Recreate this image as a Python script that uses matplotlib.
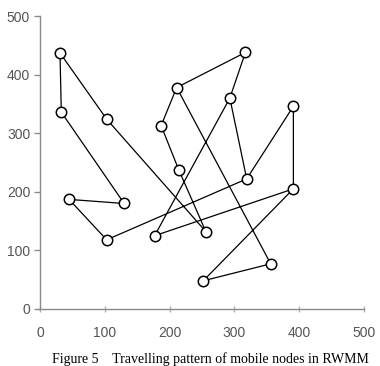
import matplotlib.pyplot as plt

# waypoints (two legs of the walk)
leg1_x = [293, 317, 211, 187, 214, 256, 103, 31, 33, 130, 45, 103, 319]
leg1_y = [360, 438, 378, 313, 238, 132, 324, 437, 336, 180, 187, 118, 222]
leg2_x = [211, 356, 252, 391, 391, 319, 293, 177, 391]
leg2_y = [378, 77, 48, 205, 346, 222, 360, 125, 205]

ticks = [0, 100, 200, 300, 400, 500]
caption = "Figure 5    Travelling pattern of mobile nodes in RWMM"

fig = plt.figure(figsize=(3.8, 3.66), dpi=100)
ax = fig.add_axes([0.105, 0.156, 0.853, 0.800])

for xs, ys in [(leg1_x, leg1_y), (leg2_x, leg2_y)]:
    ax.plot(xs, ys, color="black", lw=0.9, zorder=2)

# each waypoint drawn once
pts = sorted(set(zip(leg1_x + leg2_x, leg1_y + leg2_y)))
ax.plot([p[0] for p in pts], [p[1] for p in pts], ls="none", marker="o",
        ms=7.5, mfc="white", mec="black", mew=1.1, zorder=3)

ax.set_xlim(0, 500)
ax.set_ylim(0, 500)
ax.set_xticks(ticks)
ax.set_yticks(ticks)

for s in ["top", "right"]:
    ax.spines[s].set_visible(False)
for s in ["left", "bottom"]:
    ax.spines[s].set_color("#8a8a8a")
    ax.spines[s].set_linewidth(1.0)

ax.tick_params(axis="y", direction="out", length=4, width=1, color="#8a8a8a",
               pad=3, labelsize=10, labelcolor="#555555")
ax.tick_params(axis="x", direction="inout", length=5, width=1, color="#b0b0b0",
               pad=10, labelsize=10, labelcolor="#555555")
for lab in ax.get_xticklabels() + ax.get_yticklabels():
    lab.set_family("Liberation Sans")

fig.text(0.137, 0.038, caption, family="Liberation Serif", fontsize=10,
         ha="left", va="top")

fig.savefig("out.png", dpi=100)
